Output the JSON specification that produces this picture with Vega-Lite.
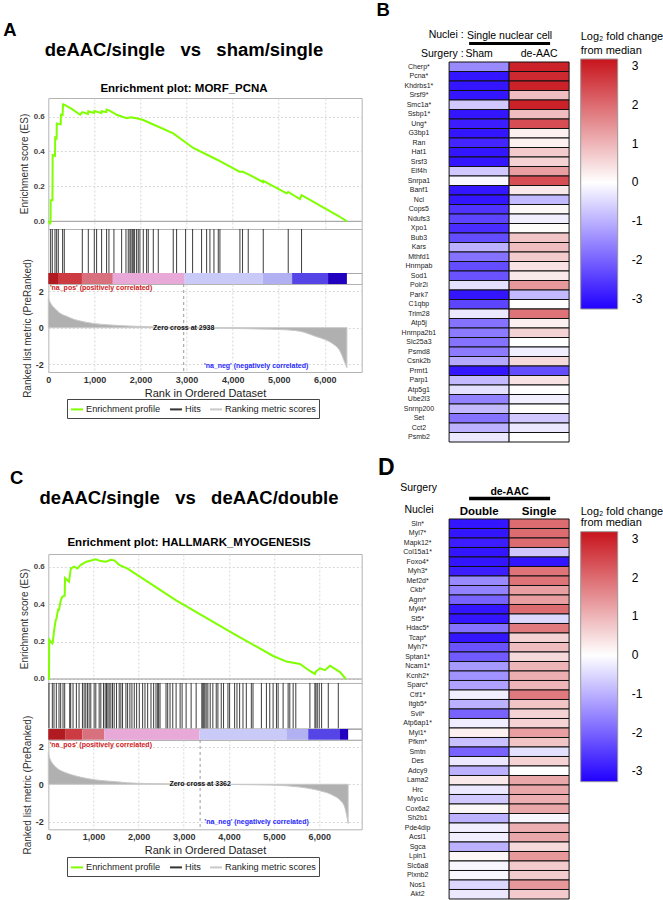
{
"$schema": "https://vega.github.io/schema/vega-lite/v6.json",
"background": "white",
"padding": {"left": 3.3, "top": 0, "right": 0, "bottom": 0},
"config": {
  "font": "Liberation Sans",
  "view": {"stroke": null},
  "title": {"font": "Liberation Sans", "subtitleFont": "Liberation Sans", "color": "#000", "subtitleColor": "#000"},
  "axis": {"labelFont": "Liberation Sans", "titleFont": "Liberation Sans"},
  "legend": {"labelFont": "Liberation Sans", "titleFont": "Liberation Sans", "gradientThickness": 37},
  "text": {"font": "Liberation Sans"}
},
"spacing": 12.8,
"resolve": {"scale": {"x": "independent", "y": "independent", "color": "independent", "stroke": "independent"}, "axis": {"x": "independent", "y": "independent"}, "legend": {"color": "independent", "stroke": "independent"}},
"hconcat": [
{
  "vconcat": [
    {
      "width": 313.4, "height": 98,
      "data": {"values": []},
      "mark": "point",
      "title": {"text": "A", "fontSize": 18.5, "fontWeight": "bold", "anchor": "start", "frame": "group", "dx": -45, "offset": -39.5}
    },
    {
      "width": 313.4, "height": 131,
      "view": {"stroke": "#b4b4b4"},
      "title": {"text": "deAAC/single\u00a0\u00a0\u00a0vs\u00a0\u00a0\u00a0sham/single", "subtitle": "Enrichment plot: MORF_PCNA", "fontSize": 18.5, "fontWeight": "bold", "subtitleFontSize": 11.5, "subtitleFontWeight": "bold", "subtitlePadding": 23, "offset": 4, "dx": -21, "anchor": "middle", "frame": "group"},
      "layer": [
        {
          "data": {"values": [{}]},
          "mark": {"type": "rule", "color": "#999999", "strokeWidth": 1},
          "encoding": {"y": {"datum": 0}}
        },
        {
          "data": {"values": [
            {"rank":0,"es":0},{"rank":37,"es":-0.012},{"rank":50,"es":-0.005},{"rank":52,"es":0.12},{"rank":90,"es":0.12},{"rank":95,"es":0.38},{"rank":145,"es":0.375},{"rank":150,"es":0.48},{"rank":180,"es":0.475},{"rank":185,"es":0.56},{"rank":270,"es":0.555},{"rank":275,"es":0.61},{"rank":310,"es":0.608},{"rank":320,"es":0.67},{"rank":345,"es":0.668},{"rank":500,"es":0.645},{"rank":690,"es":0.61},{"rank":738,"es":0.625},{"rank":860,"es":0.615},{"rank":868,"es":0.63},{"rank":990,"es":0.62},{"rank":998,"es":0.632},{"rank":1150,"es":0.62},{"rank":1157,"es":0.63},{"rank":1260,"es":0.625},{"rank":1265,"es":0.64},{"rank":1316,"es":0.635},{"rank":1424,"es":0.62},{"rank":1480,"es":0.61},{"rank":1591,"es":0.6},{"rank":1700,"es":0.59},{"rank":1800,"es":0.595},{"rank":1916,"es":0.59},{"rank":2061,"es":0.58},{"rank":2206,"es":0.563},{"rank":2711,"es":0.503},{"rank":3145,"es":0.42},{"rank":3653,"es":0.354},{"rank":4158,"es":0.283},{"rank":4215,"es":0.285},{"rank":4375,"es":0.265},{"rank":4660,"es":0.224},{"rank":4664,"es":0.232},{"rank":5171,"es":0.16},{"rank":5206,"es":0.168},{"rank":5460,"es":0.127},{"rank":5497,"es":0.15},{"rank":6327,"es":0.026},{"rank":6479,"es":0}
          ]},
          "mark": {"type": "line", "color": "#7fff00", "strokeWidth": 2},
          "encoding": {
            "x": {"field": "rank", "type": "quantitative", "scale": {"domain": [0, 6800], "nice": false, "zero": false},
                  "axis": {"values": [1000,2000,3000,4000,5000,6000], "labels": false, "ticks": false, "domain": false, "title": null, "grid": true, "gridColor": "#d8d8d8", "gridDash": [2,2]}},
            "y": {"field": "es", "type": "quantitative", "scale": {"domain": [-0.044, 0.706], "nice": false, "zero": false},
                  "axis": {"values": [0,0.1,0.2,0.3,0.4,0.5,0.6,0.7], "format": ".1f", "labelFontSize": 8, "labelFontWeight": "bold", "labelColor": "#444", "ticks": false, "domain": false, "labelPadding": 4, "grid": true, "gridColor": "#d8d8d8", "gridDash": [2,2], "title": "Enrichment score (ES)", "titleFontSize": 10, "titleFontWeight": "normal", "titleColor": "#333", "titlePadding": 4}}
          }
        }
      ]
    },
    {
      "width": 313.4, "height": 44,
      "view": {"stroke": "#b4b4b4"},
      "data": {"values": [
        {"rank":51},{"rank":87},{"rank":145},{"rank":181},{"rank":217},{"rank":311},{"rank":347},{"rank":738},{"rank":868},{"rank":998},{"rank":1048},{"rank":1157},{"rank":1265},{"rank":1316},{"rank":1424},{"rank":1591},{"rank":1685},{"rank":1735},{"rank":1771},{"rank":1793},{"rank":1822},{"rank":1844},{"rank":1873},{"rank":1916},{"rank":1952},{"rank":1988},{"rank":2061},{"rank":2133},{"rank":2169},{"rank":2278},{"rank":2386},{"rank":2711},{"rank":2784},{"rank":2979},{"rank":3131},{"rank":3326},{"rank":3435},{"rank":3507},{"rank":3594},{"rank":3688},{"rank":3724},{"rank":4158},{"rank":4215},{"rank":4338},{"rank":4664},{"rank":5206},{"rank":5495}
      ]},
      "mark": {"type": "rule", "color": "#1a1a1a", "strokeWidth": 1, "opacity": 0.85},
      "encoding": {"x": {"field": "rank", "type": "quantitative", "scale": {"domain": [0, 6800], "nice": false, "zero": false}, "axis": null}}
    },
    {
      "width": 313.4, "height": 11,
      "view": {"stroke": "#aaaaaa"},
      "data": {"values": [
        {"start":0,"end":210,"level":1},{"start":210,"end":730,"level":2},{"start":730,"end":1400,"level":3},{"start":1400,"end":2960,"level":4},{"start":2960,"end":4650,"level":5},{"start":4650,"end":5290,"level":6},{"start":5290,"end":6070,"level":7},{"start":6070,"end":6479,"level":8}
      ]},
      "mark": {"type": "rect"},
      "encoding": {
        "x": {"field": "start", "type": "quantitative", "scale": {"domain": [0, 6800], "nice": false, "zero": false}, "axis": null},
        "x2": {"field": "end"},
        "color": {"field": "level", "type": "ordinal", "scale": {"domain": [1,2,3,4,5,6,7,8], "range": ["#b21a22","#cc3a42","#d9707e","#e8a9d9","#cacaf8","#b0b0f2","#5544e6","#2200c0"]}, "legend": null}
      }
    },
    {
      "width": 313.4, "height": 88,
      "view": {"stroke": "#b4b4b4"},
      "layer": [
        {
          "data": {"values": [
            {"rank":0,"metric":1.65},{"rank":20,"metric":1.5},{"rank":60,"metric":1.3},{"rank":145,"metric":1.05},{"rank":250,"metric":0.8},{"rank":400,"metric":0.62},{"rank":550,"metric":0.46},{"rank":687,"metric":0.37},{"rank":976,"metric":0.23},{"rank":1337,"metric":0.15},{"rank":1843,"metric":0.08},{"rank":2205,"metric":0.05},{"rank":2600,"metric":0.02},{"rank":2938,"metric":0},{"rank":3500,"metric":-0.02},{"rank":4000,"metric":-0.04},{"rank":4500,"metric":-0.07},{"rank":5000,"metric":-0.1},{"rank":5460,"metric":-0.2},{"rank":5820,"metric":-0.5},{"rank":6000,"metric":-0.65},{"rank":6180,"metric":-0.9},{"rank":6320,"metric":-1.25},{"rank":6430,"metric":-1.9},{"rank":6479,"metric":-2.2}
          ]},
          "mark": {"type": "area", "fill": "#b0b0b0", "strokeWidth": 1, "interpolate": "monotone"},
          "encoding": {
            "x": {"field": "rank", "type": "quantitative", "scale": {"domain": [0, 6800], "nice": false, "zero": false},
                  "axis": {"values": [0,1000,2000,3000,4000,5000,6000], "format": ",d", "labelFontSize": 9, "labelFontWeight": "bold", "labelColor": "#333", "ticks": false, "domain": false, "labelPadding": 3, "labelFlush": false, "grid": true, "gridColor": "#d8d8d8", "gridDash": [2,2], "title": "Rank in Ordered Dataset", "titleFontSize": 11, "titleFontWeight": "normal", "titleColor": "#222", "titlePadding": 3}},
            "y": {"field": "metric", "type": "quantitative", "scale": {"domain": [-2.44, 2.4], "nice": false, "zero": false},
                  "axis": {"values": [-2,-1,0,1,2], "labelExpr": "'' + datum.value", "labelFontSize": 9, "labelFontWeight": "bold", "labelColor": "#333", "ticks": false, "domain": false, "labelPadding": 5, "grid": true, "gridColor": "#d8d8d8", "gridDash": [2,2], "title": "Ranked list metric (PreRanked)", "titleFontSize": 10, "titleFontWeight": "normal", "titleColor": "#333", "titlePadding": 3}},
            "y2": {"datum": 0},
            "stroke": {"datum": "Ranking metric scores", "type": "nominal",
                       "scale": {"domain": ["Enrichment profile", "Hits", "Ranking metric scores"], "range": ["#7fff00", "#333333", "#c8c8c8"]},
                       "legend": {"orient": "none", "legendX": 18.7, "legendY": 115, "direction": "horizontal", "title": null, "symbolType": "stroke", "symbolSize": 144, "symbolStrokeWidth": 2, "labelFontSize": 9.2, "labelColor": "#222", "strokeColor": "#444444", "padding": 3, "columnPadding": 5, "labelOffset": 2, "labelLimit": 200}}
          }
        },
        {
          "data": {"values": [{"rank": 2938}]},
          "mark": {"type": "rule", "color": "#999999", "strokeDash": [3,3], "strokeWidth": 1},
          "encoding": {"x": {"field": "rank", "type": "quantitative"}}
        },
        {
          "data": {"values": [{"rank": 35, "metric": 2.17, "label": "'na_pos' (positively correlated)"}]},
          "mark": {"type": "text", "align": "left", "baseline": "middle", "fontSize": 7, "fontWeight": "bold", "color": "#d02020"},
          "encoding": {"x": {"field": "rank", "type": "quantitative"}, "y": {"field": "metric", "type": "quantitative"}, "text": {"field": "label"}}
        },
        {
          "data": {"values": [{"rank": 2938, "metric": 0, "label": "Zero cross at 2938"}]},
          "mark": {"type": "text", "align": "center", "baseline": "middle", "fontSize": 7, "fontWeight": "bold", "color": "#111"},
          "encoding": {"x": {"field": "rank", "type": "quantitative"}, "y": {"field": "metric", "type": "quantitative"}, "text": {"field": "label"}}
        },
        {
          "data": {"values": [{"rank": 3378, "metric": -2.1, "label": "'na_neg' (negatively correlated)"}]},
          "mark": {"type": "text", "align": "left", "baseline": "middle", "fontSize": 7, "fontWeight": "bold", "color": "#2a2aff"},
          "encoding": {"x": {"field": "rank", "type": "quantitative"}, "y": {"field": "metric", "type": "quantitative"}, "text": {"field": "label"}}
        }
      ]
    },
    {
      "width": 313.4, "height": 182,
      "data": {"values": []},
      "mark": "point",
      "title": {"text": "C", "fontSize": 18.5, "fontWeight": "bold", "anchor": "start", "frame": "group", "dx": -38.3, "offset": -115.2}
    },
    {
      "width": 313.4, "height": 129,
      "view": {"stroke": "#b4b4b4"},
      "title": {"text": "deAAC/single\u00a0\u00a0\u00a0vs\u00a0\u00a0\u00a0deAAC/double", "subtitle": "Enrichment plot: HALLMARK_MYOGENESIS", "fontSize": 18.5, "fontWeight": "bold", "subtitleFontSize": 11.5, "subtitleFontWeight": "bold", "subtitlePadding": 29, "offset": 5.5, "dx": -16, "anchor": "middle", "frame": "group"},
      "layer": [
        {
          "data": {"values": [{}]},
          "mark": {"type": "rule", "color": "#999999", "strokeWidth": 1},
          "encoding": {"y": {"datum": 0}}
        },
        {
          "data": {"values": [
            {"rank":0,"es":0},{"rank":15,"es":0},{"rank":20,"es":0.21},{"rank":89,"es":0.19},{"rank":100,"es":0.196},{"rank":126,"es":0.255},{"rank":164,"es":0.316},{"rank":178,"es":0.32},{"rank":216,"es":0.37},{"rank":237,"es":0.37},{"rank":276,"es":0.42},{"rank":311,"es":0.44},{"rank":363,"es":0.445},{"rank":371,"es":0.54},{"rank":459,"es":0.52},{"rank":498,"es":0.59},{"rank":571,"es":0.6},{"rank":644,"es":0.59},{"rank":720,"es":0.61},{"rank":844,"es":0.627},{"rank":1053,"es":0.64},{"rank":1160,"es":0.63},{"rank":1276,"es":0.627},{"rank":1385,"es":0.637},{"rank":1460,"es":0.634},{"rank":1571,"es":0.61},{"rank":1756,"es":0.59},{"rank":2831,"es":0.42},{"rank":4089,"es":0.244},{"rank":4978,"es":0.123},{"rank":5276,"es":0.093},{"rank":5571,"es":0.08},{"rank":5793,"es":0.043},{"rank":5904,"es":0.027},{"rank":5926,"es":0.04},{"rank":6016,"es":0.057},{"rank":6127,"es":0.047},{"rank":6238,"es":0.071},{"rank":6460,"es":0.037},{"rank":6590,"es":0}
          ]},
          "mark": {"type": "line", "color": "#7fff00", "strokeWidth": 2},
          "encoding": {
            "x": {"field": "rank", "type": "quantitative", "scale": {"domain": [0, 6940], "nice": false, "zero": false},
                  "axis": {"values": [1000,2000,3000,4000,5000,6000], "labels": false, "ticks": false, "domain": false, "title": null, "grid": true, "gridColor": "#d8d8d8", "gridDash": [2,2]}},
            "y": {"field": "es", "type": "quantitative", "scale": {"domain": [-0.0214, 0.668], "nice": false, "zero": false},
                  "axis": {"values": [0,0.1,0.2,0.3,0.4,0.5,0.6], "format": ".1f", "labelFontSize": 8, "labelFontWeight": "bold", "labelColor": "#444", "ticks": false, "domain": false, "labelPadding": 4, "grid": true, "gridColor": "#d8d8d8", "gridDash": [2,2], "title": "Enrichment score (ES)", "titleFontSize": 10, "titleFontWeight": "normal", "titleColor": "#333", "titlePadding": 4}}
          }
        }
      ]
    },
    {
      "width": 313.4, "height": 45.3,
      "view": {"stroke": "#b4b4b4"},
      "data": {"values": [
        {"rank":15},{"rank":89},{"rank":126},{"rank":178},{"rank":237},{"rank":274},{"rank":326},{"rank":363},{"rank":474},{"rank":496},{"rank":548},{"rank":622},{"rank":681},{"rank":756},{"rank":793},{"rank":830},{"rank":867},{"rank":904},{"rank":941},{"rank":1015},{"rank":1052},{"rank":1126},{"rank":1163},{"rank":1222},{"rank":1259},{"rank":1289},{"rank":1319},{"rank":1348},{"rank":1385},{"rank":1422},{"rank":1459},{"rank":1511},{"rank":1570},{"rank":1607},{"rank":1644},{"rank":1719},{"rank":1756},{"rank":1807},{"rank":1852},{"rank":1904},{"rank":1956},{"rank":2015},{"rank":2089},{"rank":2141},{"rank":2200},{"rank":2274},{"rank":2333},{"rank":2385},{"rank":2422},{"rank":2444},{"rank":2474},{"rank":2607},{"rank":2644},{"rank":2696},{"rank":2756},{"rank":2830},{"rank":2919},{"rank":2963},{"rank":3052},{"rank":3163},{"rank":3274},{"rank":3400},{"rank":3422},{"rank":3444},{"rank":3467},{"rank":3496},{"rank":3533},{"rank":3585},{"rank":3644},{"rank":3719},{"rank":3756},{"rank":3830},{"rank":3881},{"rank":3978},{"rank":4015},{"rank":4126},{"rank":4178},{"rank":4237},{"rank":4311},{"rank":4385},{"rank":4496},{"rank":4533},{"rank":4719},{"rank":4830},{"rank":4904},{"rank":4978},{"rank":5052},{"rank":5089},{"rank":5200},{"rank":5311},{"rank":5348},{"rank":5422},{"rank":5481},{"rank":5793},{"rank":5904},{"rank":5926},{"rank":5956},{"rank":6000},{"rank":6052},{"rank":6200},{"rank":6422}
      ]},
      "mark": {"type": "rule", "color": "#1a1a1a", "strokeWidth": 1, "opacity": 0.85},
      "encoding": {"x": {"field": "rank", "type": "quantitative", "scale": {"domain": [0, 6940], "nice": false, "zero": false}, "axis": null}}
    },
    {
      "width": 313.4, "height": 10.7,
      "view": {"stroke": "#aaaaaa"},
      "data": {"values": [
        {"start":0,"end":385,"level":1},{"start":385,"end":755,"level":2},{"start":755,"end":1237,"level":3},{"start":1237,"end":3348,"level":4},{"start":3348,"end":5274,"level":5},{"start":5274,"end":5755,"level":6},{"start":5755,"end":6459,"level":7},{"start":6459,"end":6640,"level":8}
      ]},
      "mark": {"type": "rect"},
      "encoding": {
        "x": {"field": "start", "type": "quantitative", "scale": {"domain": [0, 6940], "nice": false, "zero": false}, "axis": null},
        "x2": {"field": "end"},
        "color": {"field": "level", "type": "ordinal", "scale": {"domain": [1,2,3,4,5,6,7,8], "range": ["#b21a22","#cc3a42","#d9707e","#e8a9d9","#cacaf8","#b0b0f2","#5544e6","#2200c0"]}, "legend": null}
      }
    },
    {
      "width": 313.4, "height": 89.3,
      "view": {"stroke": "#b4b4b4"},
      "layer": [
        {
          "data": {"values": [
            {"rank":0,"metric":1.7},{"rank":25,"metric":1.45},{"rank":70,"metric":1.2},{"rank":130,"metric":1.0},{"rank":200,"metric":0.85},{"rank":386,"metric":0.62},{"rank":600,"metric":0.45},{"rank":830,"metric":0.32},{"rank":1100,"metric":0.22},{"rank":1497,"metric":0.14},{"rank":1750,"metric":0.08},{"rank":2200,"metric":0.04},{"rank":2800,"metric":0.015},{"rank":3362,"metric":0},{"rank":4000,"metric":-0.01},{"rank":4600,"metric":-0.03},{"rank":5052,"metric":-0.05},{"rank":5570,"metric":-0.15},{"rank":6016,"metric":-0.35},{"rank":6310,"metric":-0.6},{"rank":6460,"metric":-0.85},{"rank":6560,"metric":-1.2},{"rank":6610,"metric":-1.7},{"rank":6640,"metric":-2.1}
          ]},
          "mark": {"type": "area", "fill": "#b0b0b0", "strokeWidth": 1, "interpolate": "monotone"},
          "encoding": {
            "x": {"field": "rank", "type": "quantitative", "scale": {"domain": [0, 6940], "nice": false, "zero": false},
                  "axis": {"values": [0,1000,2000,3000,4000,5000,6000], "format": ",d", "labelFontSize": 9, "labelFontWeight": "bold", "labelColor": "#333", "ticks": false, "domain": false, "labelPadding": 3, "labelFlush": false, "grid": true, "gridColor": "#d8d8d8", "gridDash": [2,2], "title": "Rank in Ordered Dataset", "titleFontSize": 11, "titleFontWeight": "normal", "titleColor": "#222", "titlePadding": 3}},
            "y": {"field": "metric", "type": "quantitative", "scale": {"domain": [-2.41, 2.37], "nice": false, "zero": false},
                  "axis": {"values": [-2,-1,0,1,2], "labelExpr": "'' + datum.value", "labelFontSize": 9, "labelFontWeight": "bold", "labelColor": "#333", "ticks": false, "domain": false, "labelPadding": 5, "grid": true, "gridColor": "#d8d8d8", "gridDash": [2,2], "title": "Ranked list metric (PreRanked)", "titleFontSize": 10, "titleFontWeight": "normal", "titleColor": "#333", "titlePadding": 3}},
            "y2": {"datum": 0},
            "stroke": {"datum": "Ranking metric scores", "type": "nominal",
                       "scale": {"domain": ["Enrichment profile", "Hits", "Ranking metric scores"], "range": ["#7fff00", "#333333", "#c8c8c8"]},
                       "legend": {"orient": "none", "legendX": 18.7, "legendY": 117, "direction": "horizontal", "title": null, "symbolType": "stroke", "symbolSize": 144, "symbolStrokeWidth": 2, "labelFontSize": 9.2, "labelColor": "#222", "strokeColor": "#444444", "padding": 3, "columnPadding": 5, "labelOffset": 2, "labelLimit": 200}}
          }
        },
        {
          "data": {"values": [{"rank": 3362}]},
          "mark": {"type": "rule", "color": "#999999", "strokeDash": [3,3], "strokeWidth": 1},
          "encoding": {"x": {"field": "rank", "type": "quantitative"}}
        },
        {
          "data": {"values": [{"rank": 30, "metric": 2.1, "label": "'na_pos' (positively correlated)"}]},
          "mark": {"type": "text", "align": "left", "baseline": "middle", "fontSize": 7, "fontWeight": "bold", "color": "#d02020"},
          "encoding": {"x": {"field": "rank", "type": "quantitative"}, "y": {"field": "metric", "type": "quantitative"}, "text": {"field": "label"}}
        },
        {
          "data": {"values": [{"rank": 3362, "metric": 0, "label": "Zero cross at 3362"}]},
          "mark": {"type": "text", "align": "center", "baseline": "middle", "fontSize": 7, "fontWeight": "bold", "color": "#111"},
          "encoding": {"x": {"field": "rank", "type": "quantitative"}, "y": {"field": "metric", "type": "quantitative"}, "text": {"field": "label"}}
        },
        {
          "data": {"values": [{"rank": 3460, "metric": -2.03, "label": "'na_neg' (negatively correlated)"}]},
          "mark": {"type": "text", "align": "left", "baseline": "middle", "fontSize": 7, "fontWeight": "bold", "color": "#2a2aff"},
          "encoding": {"x": {"field": "rank", "type": "quantitative"}, "y": {"field": "metric", "type": "quantitative"}, "text": {"field": "label"}}
        }
      ]
    }
  ],
  "spacing": 0,
  "bounds": "flush",
  "resolve": {"scale": {"x": "independent", "y": "independent", "color": "independent", "stroke": "independent"}, "axis": {"x": "independent", "y": "independent"}, "legend": {"color": "independent", "stroke": "independent"}}
},
{
  "vconcat": [
    {
      "width": 120, "height": 42.2,
      "data": {"values": []},
      "mark": "point",
      "title": {"text": "B", "fontSize": 18.5, "fontWeight": "bold", "anchor": "start", "frame": "group", "dx": -72.7, "offset": -19}
    },
    {
      "width": 81, "height": 18.8,
      "data": {"values": []},
      "mark": "point",
      "encoding": {
        "x": {"field": "v", "type": "quantitative", "scale": {"domain": [0, 1]},
              "axis": {"orient": "top", "values": [0.5], "labelExpr": "'Single nuclear cell'", "ticks": false, "tickSize": 0, "grid": false, "domain": true, "domainColor": "#000", "domainWidth": 3, "labelFontSize": 10.5, "labelColor": "#000", "labelPadding": 3, "labelFlush": false, "labelOverlap": false, "labelBound": false,
                       "title": "Nuclei :", "titleFontSize": 10.5, "titleFontWeight": "normal", "titleColor": "#000", "titleAlign": "right", "titleAngle": 0, "titleBaseline": "middle", "titleX": -5.5, "titleY": -8.4}}
      }
    },
    {
      "width": 120, "height": 380,
      "data": {"values": [
        {"gene":"Cherp*","group":"Sham","lfc":-1.5},{"gene":"Pcna*","group":"Sham","lfc":-3.0},{"gene":"Khdrbs1*","group":"Sham","lfc":-3.0},{"gene":"Srsf9*","group":"Sham","lfc":-3.0},{"gene":"Smc1a*","group":"Sham","lfc":-0.7},{"gene":"Ssbp1*","group":"Sham","lfc":-3.0},{"gene":"Ung*","group":"Sham","lfc":-2.9},{"gene":"G3bp1","group":"Sham","lfc":-3.0},{"gene":"Ran","group":"Sham","lfc":-2.8},{"gene":"Hat1","group":"Sham","lfc":-3.0},{"gene":"Srsf3","group":"Sham","lfc":-3.0},{"gene":"Eif4h","group":"Sham","lfc":-0.7},{"gene":"Snrpa1","group":"Sham","lfc":-0.1},{"gene":"Banf1","group":"Sham","lfc":-3.0},{"gene":"Ncl","group":"Sham","lfc":-3.0},{"gene":"Cops5","group":"Sham","lfc":-2.6},{"gene":"Ndufs3","group":"Sham","lfc":-2.4},{"gene":"Xpo1","group":"Sham","lfc":-2.7},{"gene":"Bub3","group":"Sham","lfc":-2.3},{"gene":"Kars","group":"Sham","lfc":-1.0},{"gene":"Mthfd1","group":"Sham","lfc":-1.8},{"gene":"Hnrnpab","group":"Sham","lfc":-2.3},{"gene":"Sod1","group":"Sham","lfc":-2.2},{"gene":"Polr2i","group":"Sham","lfc":-0.4},{"gene":"Park7","group":"Sham","lfc":-3.0},{"gene":"C1qbp","group":"Sham","lfc":-2.4},{"gene":"Trim28","group":"Sham","lfc":-0.3},{"gene":"Atp5j","group":"Sham","lfc":-1.8},{"gene":"Hnrnpa2b1","group":"Sham","lfc":-1.7},{"gene":"Slc25a3","group":"Sham","lfc":-1.8},{"gene":"Psmd8","group":"Sham","lfc":-1.7},{"gene":"Csnk2b","group":"Sham","lfc":-1.1},{"gene":"Prmt1","group":"Sham","lfc":-3.0},{"gene":"Parp1","group":"Sham","lfc":-0.9},{"gene":"Atp5g1","group":"Sham","lfc":-0.4},{"gene":"Ube2l3","group":"Sham","lfc":-1.6},{"gene":"Snrnp200","group":"Sham","lfc":-0.9},{"gene":"Set","group":"Sham","lfc":-1.8},{"gene":"Cct2","group":"Sham","lfc":-1.0},{"gene":"Psmb2","group":"Sham","lfc":-0.3},
        {"gene":"Cherp*","group":"de-AAC","lfc":3.0},{"gene":"Pcna*","group":"de-AAC","lfc":2.9},{"gene":"Khdrbs1*","group":"de-AAC","lfc":3.0},{"gene":"Srsf9*","group":"de-AAC","lfc":0.9},{"gene":"Smc1a*","group":"de-AAC","lfc":3.0},{"gene":"Ssbp1*","group":"de-AAC","lfc":0.9},{"gene":"Ung*","group":"de-AAC","lfc":2.4},{"gene":"G3bp1","group":"de-AAC","lfc":0.2},{"gene":"Ran","group":"de-AAC","lfc":0.2},{"gene":"Hat1","group":"de-AAC","lfc":0.7},{"gene":"Srsf3","group":"de-AAC","lfc":0.6},{"gene":"Eif4h","group":"de-AAC","lfc":1.3},{"gene":"Snrpa1","group":"de-AAC","lfc":2.4},{"gene":"Banf1","group":"de-AAC","lfc":0.3},{"gene":"Ncl","group":"de-AAC","lfc":-0.9},{"gene":"Cops5","group":"de-AAC","lfc":0.1},{"gene":"Ndufs3","group":"de-AAC","lfc":-0.2},{"gene":"Xpo1","group":"de-AAC","lfc":0.05},{"gene":"Bub3","group":"de-AAC","lfc":0.8},{"gene":"Kars","group":"de-AAC","lfc":0.9},{"gene":"Mthfd1","group":"de-AAC","lfc":0.7},{"gene":"Hnrnpab","group":"de-AAC","lfc":0.4},{"gene":"Sod1","group":"de-AAC","lfc":0.3},{"gene":"Polr2i","group":"de-AAC","lfc":1.4},{"gene":"Park7","group":"de-AAC","lfc":-0.9},{"gene":"C1qbp","group":"de-AAC","lfc":0.0},{"gene":"Trim28","group":"de-AAC","lfc":1.9},{"gene":"Atp5j","group":"de-AAC","lfc":0.2},{"gene":"Hnrnpa2b1","group":"de-AAC","lfc":0.6},{"gene":"Slc25a3","group":"de-AAC","lfc":0.0},{"gene":"Psmd8","group":"de-AAC","lfc":-0.2},{"gene":"Csnk2b","group":"de-AAC","lfc":0.5},{"gene":"Prmt1","group":"de-AAC","lfc":-2.3},{"gene":"Parp1","group":"de-AAC","lfc":0.4},{"gene":"Atp5g1","group":"de-AAC","lfc":0.0},{"gene":"Ube2l3","group":"de-AAC","lfc":-0.2},{"gene":"Snrnp200","group":"de-AAC","lfc":0.0},{"gene":"Set","group":"de-AAC","lfc":-0.7},{"gene":"Cct2","group":"de-AAC","lfc":-0.3},{"gene":"Psmb2","group":"de-AAC","lfc":0.0}
      ]},
      "mark": {"type": "rect", "stroke": "#111111", "strokeWidth": 1},
      "encoding": {
        "x": {"field": "group", "type": "nominal", "sort": ["Sham", "de-AAC"], "scale": {"paddingInner": 0, "paddingOuter": 0},
              "axis": {"orient": "top", "ticks": false, "tickSize": 0, "domain": false, "labelAngle": 0, "labelFontSize": 10.5, "labelColor": "#000", "labelPadding": 4,
                       "title": "Surgery :", "titleFontSize": 10.5, "titleFontWeight": "normal", "titleColor": "#000", "titleAlign": "right", "titleAngle": 0, "titleBaseline": "middle", "titleX": 14, "titleY": -8.2}},
        "y": {"field": "gene", "type": "nominal", "sort": null, "scale": {"paddingInner": 0, "paddingOuter": 0},
              "axis": {"ticks": false, "tickSize": 0, "domain": false, "labelAlign": "center", "labelPadding": 30.7, "labelFontSize": 7, "labelColor": "#222", "title": null}},
        "color": {"field": "lfc", "type": "quantitative", "scale": {"domain": [-3.27, 0, 3.19], "range": ["#2200ff", "#ffffff", "#c8141c"], "interpolate": "rgb"},
                  "legend": {"orient": "none", "legendX": 131.6, "legendY": -31, "direction": "vertical", "gradientLength": 250, "gradientThickness": 37, "values": [-3,-2,-1,0,1,2,3], "labelExpr": "'' + datum.value",
                             "title": ["Log\u2082 fold change", "from median"], "titleFontSize": 11, "titleFontWeight": "normal", "titleLineHeight": 14, "titlePadding": 3,
                             "labelFontSize": 12, "labelAlign": "left", "labelOffset": 14, "gradientStrokeColor": "#999999", "gradientStrokeWidth": 1}}
      }
    },
    {
      "width": 120, "height": 55.7,
      "data": {"values": []},
      "mark": "point",
      "title": {"text": "D", "fontSize": 23, "fontWeight": "bold", "anchor": "start", "frame": "group", "dx": -71, "offset": -37.8}
    },
    {
      "width": 81, "height": 20.6,
      "data": {"values": []},
      "mark": "point",
      "encoding": {
        "x": {"field": "v", "type": "quantitative", "scale": {"domain": [0, 1]},
              "axis": {"orient": "top", "values": [0.5], "labelExpr": "'de-AAC'", "ticks": false, "tickSize": 0, "grid": false, "domain": true, "domainColor": "#000", "domainWidth": 3.5, "labelFontSize": 10.5, "labelFontWeight": "bold", "labelColor": "#000", "labelPadding": 1.5, "labelFlush": false, "labelOverlap": false, "labelBound": false,
                       "title": "Surgery", "titleFontSize": 10.5, "titleFontWeight": "normal", "titleColor": "#000", "titleAlign": "right", "titleAngle": 0, "titleBaseline": "middle", "titleX": -32.2, "titleY": -10}}
      }
    },
    {
      "width": 120, "height": 380,
      "data": {"values": [
        {"gene":"Sln*","group":"Double","lfc":-3.0},{"gene":"Myl7*","group":"Double","lfc":-3.0},{"gene":"Mapk12*","group":"Double","lfc":-2.9},{"gene":"Col15a1*","group":"Double","lfc":-3.0},{"gene":"Foxo4*","group":"Double","lfc":-3.0},{"gene":"Myh3*","group":"Double","lfc":-2.9},{"gene":"Mef2d*","group":"Double","lfc":-1.5},{"gene":"Ckb*","group":"Double","lfc":-1.6},{"gene":"Agrn*","group":"Double","lfc":-2.0},{"gene":"Myl4*","group":"Double","lfc":-3.0},{"gene":"St5*","group":"Double","lfc":-3.0},{"gene":"Hdac5*","group":"Double","lfc":-1.8},{"gene":"Tcap*","group":"Double","lfc":-3.0},{"gene":"Myh7*","group":"Double","lfc":-2.2},{"gene":"Sptan1*","group":"Double","lfc":-2.1},{"gene":"Ncam1*","group":"Double","lfc":-1.3},{"gene":"Kcnh2*","group":"Double","lfc":-1.4},{"gene":"Sparc*","group":"Double","lfc":-1.2},{"gene":"Ctf1*","group":"Double","lfc":-0.2},{"gene":"Itgb5*","group":"Double","lfc":-1.0},{"gene":"Svil*","group":"Double","lfc":-2.0},{"gene":"Atp6ap1*","group":"Double","lfc":-0.2},{"gene":"Myl1*","group":"Double","lfc":0.2},{"gene":"Pfkm*","group":"Double","lfc":-0.8},{"gene":"Smtn","group":"Double","lfc":-2.0},{"gene":"Des","group":"Double","lfc":-0.3},{"gene":"Adcy9","group":"Double","lfc":-1.0},{"gene":"Lama2","group":"Double","lfc":0.3},{"gene":"Hrc","group":"Double","lfc":-0.3},{"gene":"Myo1c","group":"Double","lfc":-0.7},{"gene":"Cox6a2","group":"Double","lfc":0.1},{"gene":"Sh2b1","group":"Double","lfc":-1.0},{"gene":"Pde4dip","group":"Double","lfc":-0.2},{"gene":"Acsl1","group":"Double","lfc":-0.2},{"gene":"Sgca","group":"Double","lfc":-1.0},{"gene":"Lpin1","group":"Double","lfc":0.1},{"gene":"Slc6a8","group":"Double","lfc":-0.1},{"gene":"Plxnb2","group":"Double","lfc":-0.1},{"gene":"Nos1","group":"Double","lfc":-0.5},{"gene":"Akt2","group":"Double","lfc":-0.3},
        {"gene":"Sln*","group":"Single","lfc":2.0},{"gene":"Myl7*","group":"Single","lfc":2.0},{"gene":"Mapk12*","group":"Single","lfc":2.0},{"gene":"Col15a1*","group":"Single","lfc":-0.7},{"gene":"Foxo4*","group":"Single","lfc":-3.0},{"gene":"Myh3*","group":"Single","lfc":1.9},{"gene":"Mef2d*","group":"Single","lfc":1.9},{"gene":"Ckb*","group":"Single","lfc":1.3},{"gene":"Agrn*","group":"Single","lfc":1.3},{"gene":"Myl4*","group":"Single","lfc":2.0},{"gene":"St5*","group":"Single","lfc":-0.5},{"gene":"Hdac5*","group":"Single","lfc":1.8},{"gene":"Tcap*","group":"Single","lfc":0.6},{"gene":"Myh7*","group":"Single","lfc":0.9},{"gene":"Sptan1*","group":"Single","lfc":0.5},{"gene":"Ncam1*","group":"Single","lfc":1.0},{"gene":"Kcnh2*","group":"Single","lfc":1.1},{"gene":"Sparc*","group":"Single","lfc":1.0},{"gene":"Ctf1*","group":"Single","lfc":1.8},{"gene":"Itgb5*","group":"Single","lfc":0.8},{"gene":"Svil*","group":"Single","lfc":0.6},{"gene":"Atp6ap1*","group":"Single","lfc":0.6},{"gene":"Myl1*","group":"Single","lfc":1.3},{"gene":"Pfkm*","group":"Single","lfc":0.8},{"gene":"Smtn","group":"Single","lfc":-0.4},{"gene":"Des","group":"Single","lfc":0.6},{"gene":"Adcy9","group":"Single","lfc":0.0},{"gene":"Lama2","group":"Single","lfc":1.2},{"gene":"Hrc","group":"Single","lfc":1.2},{"gene":"Myo1c","group":"Single","lfc":1.1},{"gene":"Cox6a2","group":"Single","lfc":1.2},{"gene":"Sh2b1","group":"Single","lfc":-0.1},{"gene":"Pde4dip","group":"Single","lfc":1.1},{"gene":"Acsl1","group":"Single","lfc":1.2},{"gene":"Sgca","group":"Single","lfc":0.5},{"gene":"Lpin1","group":"Single","lfc":1.4},{"gene":"Slc6a8","group":"Single","lfc":0.7},{"gene":"Plxnb2","group":"Single","lfc":0.7},{"gene":"Nos1","group":"Single","lfc":1.4},{"gene":"Akt2","group":"Single","lfc":0.7}
      ]},
      "mark": {"type": "rect", "stroke": "#111111", "strokeWidth": 1},
      "encoding": {
        "x": {"field": "group", "type": "nominal", "sort": ["Double", "Single"], "scale": {"paddingInner": 0, "paddingOuter": 0},
              "axis": {"orient": "top", "ticks": false, "tickSize": 0, "domain": false, "labelAngle": 0, "labelFontSize": 11.5, "labelFontWeight": "bold", "labelColor": "#000", "labelPadding": 2,
                       "title": "Nuclei", "titleFontSize": 10.5, "titleFontWeight": "normal", "titleColor": "#000", "titleAlign": "right", "titleAngle": 0, "titleBaseline": "middle", "titleX": -16, "titleY": -9.6}},
        "y": {"field": "gene", "type": "nominal", "sort": null, "scale": {"paddingInner": 0, "paddingOuter": 0},
              "axis": {"ticks": false, "tickSize": 0, "domain": false, "labelAlign": "center", "labelPadding": 32, "labelFontSize": 7, "labelColor": "#222", "title": null}},
        "color": {"field": "lfc", "type": "quantitative", "scale": {"domain": [-3.27, 0, 3.19], "range": ["#2200ff", "#ffffff", "#c8141c"], "interpolate": "rgb"},
                  "legend": {"orient": "none", "legendX": 131.6, "legendY": -13.3, "direction": "vertical", "gradientLength": 250, "gradientThickness": 37, "values": [-3,-2,-1,0,1,2,3], "labelExpr": "'' + datum.value",
                             "title": ["Log\u2082 fold change", "from median"], "titleFontSize": 11, "titleFontWeight": "normal", "titleLineHeight": 11, "titlePadding": 4,
                             "labelFontSize": 12, "labelAlign": "left", "labelOffset": 14, "gradientStrokeColor": "#999999", "gradientStrokeWidth": 1}}
      }
    }
  ],
  "spacing": 0,
  "bounds": "flush",
  "center": true,
  "resolve": {"scale": {"x": "independent", "y": "independent", "color": "independent", "stroke": "independent"}, "axis": {"x": "independent", "y": "independent"}, "legend": {"color": "independent", "stroke": "independent"}}
}
]
}
